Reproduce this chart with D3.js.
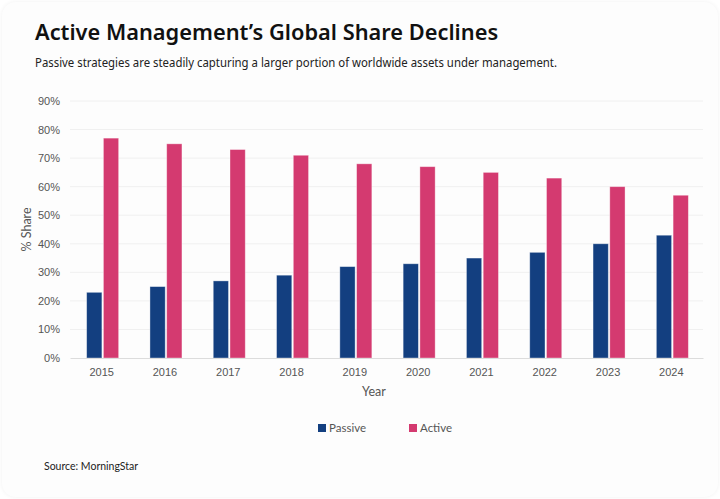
<!DOCTYPE html>
<html lang="en">
<head>
<meta charset="UTF-8">
<title>Active Management's Global Share Declines</title>
<script src="https://cdn.jsdelivr.net/npm/d3@7"></script>
<style>
  html, body { margin: 0; padding: 0; background: #ffffff; }
  #card {
    position: absolute; left: 2px; top: 2px; width: 716px; height: 495px;
    background: #fdfdfd; border-radius: 14px;
    box-shadow: 0 0 4px rgba(0,0,0,0.06);
  }
  svg { position: absolute; left: 0; top: 0; }
</style>
</head>
<body>
<div id="card"></div>
<script>
const years = ['2015', '2016', '2017', '2018', '2019', '2020', '2021', '2022', '2023', '2024']
const passive = [23, 25, 27, 29, 32, 33, 35, 37, 40, 43]
const active = [77, 75, 73, 71, 68, 67, 65, 63, 60, 57]
const seriesNames = ['Passive', 'Active']
const seriesColors = ['#133f80', '#d43a70']
const yTicks = [0, 10, 20, 30, 40, 50, 60, 70, 80, 90]

const width = 720
const height = 499
const margin = { top: 101, right: 17, bottom: 141, left: 70 }

const svg = d3.select('body')
  .append('svg')
  .attr('width', width)
  .attr('height', height)
  .style('font-family', 'Lato, sans-serif')

// title + subtitle
svg.append('text')
  .attr('x', 35)
  .attr('y', 40)
  .attr('font-family', '"Noto Sans", sans-serif')
  .attr('font-size', 21.8)
  .attr('font-weight', 600)
  .attr('fill', '#111')
  .text('Active Management\u2019s Global Share Declines')

svg.append('text')
  .attr('x', 35)
  .attr('y', 67)
  .attr('font-family', '"Noto Sans", sans-serif')
  .attr('font-size', 12.3)
  .attr('fill', '#222')
  .attr('textLength', 522)
  .attr('lengthAdjust', 'spacingAndGlyphs')
  .text('Passive strategies are steadily capturing a larger portion of worldwide assets under management.')

const x = d3.scaleBand()
  .domain(years)
  .range([margin.left, width - margin.right])

const y = d3.scaleLinear()
  .domain([0, 90])
  .range([height - margin.bottom, margin.top])

const inner = d3.scaleBand()
  .domain(seriesNames)
  .range([0, 32])
  .paddingInner(0.09)

const offset = (x.bandwidth() - 32) / 2 + 1

// gridlines
svg.append('g')
  .selectAll('line')
  .data(yTicks.slice(1))
  .enter()
  .append('line')
  .attr('x1', margin.left)
  .attr('x2', width - margin.right)
  .attr('y1', (d) => y(d))
  .attr('y2', (d) => y(d))
  .attr('stroke', '#f0f0f0')
  .attr('stroke-width', 1)

// y axis
const yAxis = svg.append('g')
  .attr('transform', `translate(${margin.left},0)`)
  .call(d3.axisLeft(y).tickValues(yTicks).tickFormat((d) => d + '%').tickSize(0).tickPadding(10))
yAxis.select('.domain').remove()
yAxis.selectAll('text')
  .attr('font-size', 11)
  .attr('fill', '#555')

// bars
const rows = years.map((yr, i) => ({ year: yr, values: [passive[i], active[i]] }))

const group = svg.append('g')
  .selectAll('g')
  .data(rows)
  .enter()
  .append('g')
  .attr('transform', (d) => `translate(${x(d.year) + offset},0)`)

group.selectAll('rect')
  .data((d) => d.values.map((v, j) => ({ key: seriesNames[j], value: v, color: seriesColors[j] })))
  .enter()
  .append('rect')
  .attr('x', (d) => inner(d.key))
  .attr('y', (d) => y(d.value))
  .attr('width', inner.bandwidth())
  .attr('height', (d) => y(0) - y(d.value))
  .attr('fill', (d) => d.color)
  .attr('stroke', 'rgba(255,255,255,0.45)')
  .attr('stroke-width', 0.8)

// x axis
const xAxis = svg.append('g')
  .attr('transform', `translate(0,${y(0)})`)
  .call(d3.axisBottom(x).tickSize(0).tickPadding(10))
xAxis.select('.domain').attr('stroke', '#dcdcdc')
xAxis.selectAll('text')
  .attr('font-size', 11)
  .attr('fill', '#555')

// axis titles
svg.append('text')
  .attr('transform', `translate(31,${(y(0) + y(90)) / 2}) rotate(-90)`)
  .attr('text-anchor', 'middle')
  .attr('font-size', 12.5)
  .attr('fill', '#555')
  .text('% Share')

svg.append('text')
  .attr('x', 374)
  .attr('y', 396)
  .attr('text-anchor', 'middle')
  .attr('font-size', 12.5)
  .attr('fill', '#555')
  .text('Year')

// legend
const legendX = [318, 409]
const legend = svg.append('g')
  .selectAll('g')
  .data(seriesNames)
  .enter()
  .append('g')
  .attr('transform', (d, i) => `translate(${legendX[i]},424)`)

legend.append('rect')
  .attr('width', 8)
  .attr('height', 8)
  .attr('fill', (d, i) => seriesColors[i])

legend.append('text')
  .attr('x', 11)
  .attr('y', 8)
  .attr('font-size', 11.5)
  .attr('fill', '#555')
  .text((d) => d)

// source
svg.append('text')
  .attr('x', 44)
  .attr('y', 470)
  .attr('font-size', 10.5)
  .attr('fill', '#222')
  .text('Source: MorningStar')
</script>
</body>
</html>
